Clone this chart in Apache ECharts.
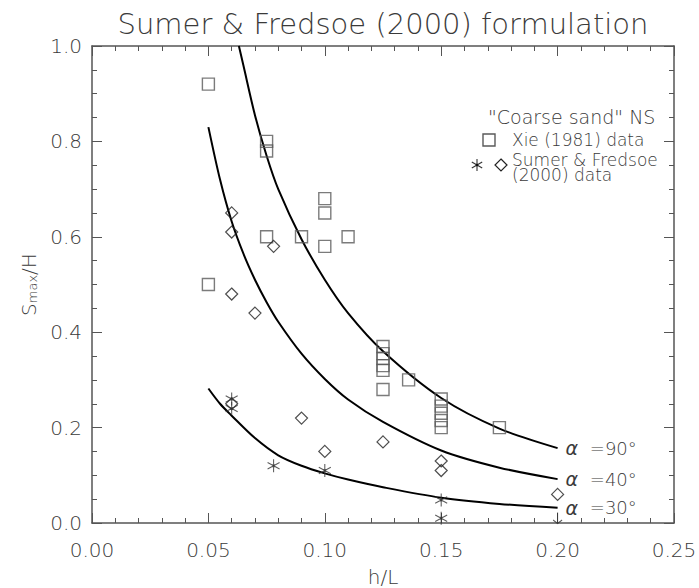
<!DOCTYPE html>
<html>
<head>
<meta charset="utf-8">
<title>Sumer &amp; Fredsoe (2000) formulation</title>
<script src="https://cdn.jsdelivr.net/npm/echarts@6/dist/echarts.min.js"></script>
<style>
  html, body { margin: 0; padding: 0; background: #fff; }
  #chart { width: 699px; height: 588px; }
</style>
</head>
<body>
<div id="chart"></div>
<script>
// Xie (1981) measurements: [h/L, Smax/H]
const xieData = [
  [0.05, 0.92], [0.05, 0.50],
  [0.075, 0.80], [0.075, 0.78], [0.075, 0.60],
  [0.09, 0.60],
  [0.10, 0.68], [0.10, 0.65], [0.10, 0.58],
  [0.11, 0.60],
  [0.125, 0.37], [0.125, 0.355], [0.125, 0.345], [0.125, 0.33], [0.125, 0.32], [0.125, 0.28],
  [0.136, 0.30],
  [0.15, 0.26], [0.15, 0.245], [0.15, 0.23], [0.15, 0.215], [0.15, 0.20],
  [0.175, 0.20]
];

// Sumer & Fredsoe (2000) measurements, diamonds
const sumerDiamond = [
  [0.06, 0.65], [0.06, 0.61], [0.06, 0.48], [0.06, 0.25],
  [0.07, 0.44], [0.078, 0.58],
  [0.09, 0.22], [0.10, 0.15], [0.125, 0.17],
  [0.15, 0.13], [0.15, 0.11],
  [0.20, 0.06]
];

// Sumer & Fredsoe (2000) measurements, asterisks
const sumerStar = [
  [0.06, 0.26], [0.06, 0.24],
  [0.078, 0.12], [0.10, 0.11],
  [0.15, 0.048], [0.15, 0.01]
];

// no measurable scour (drawn as a down arrow)
const sumerZero = [[0.20, 0.0]];

// formulation curves for three breakwater slopes
const alpha90X = [0.0631, 0.065, 0.07, 0.075, 0.08, 0.09, 0.10, 0.11, 0.125, 0.15, 0.175, 0.20];
const alpha90Y = [1.0, 0.96, 0.855, 0.77, 0.70, 0.595, 0.51, 0.44, 0.36, 0.262, 0.198, 0.157];

const alpha40X = [0.05, 0.055, 0.06, 0.065, 0.07, 0.075, 0.08, 0.09, 0.10, 0.11, 0.125, 0.15, 0.175, 0.20];
const alpha40Y = [0.83, 0.72, 0.632, 0.565, 0.51, 0.463, 0.422, 0.355, 0.302, 0.259, 0.212, 0.152, 0.116, 0.092];

const alpha30X = [0.05, 0.055, 0.06, 0.07, 0.08, 0.09, 0.10, 0.11, 0.125, 0.15, 0.175, 0.20];
const alpha30Y = [0.282, 0.25, 0.225, 0.178, 0.142, 0.12, 0.104, 0.091, 0.075, 0.053, 0.040, 0.032];

const curveLabels = ['90°', '40°', '30°'];

const xTicks = { min: 0, max: 0.25, interval: 0.05 };
const yTicks = { min: 0, max: 1.0, interval: 0.2 };

const FONT = 'DejaVu Sans';
const TEXT = '#3a3a3a';
const AXIS = '#555';

function pairs(xs, ys) { return xs.map((x, i) => [x, ys[i]]); }

const starPath = 'path://M0,-1L0,1M-0.866,-0.5L0.866,0.5M-0.866,0.5L0.866,-0.5M-0.13,-0.13L0.13,-0.13L0.13,0.13L-0.13,0.13Z';
const arrowPath = 'path://M0,-1L0,1M-0.55,0.35L0,1L0.55,0.35';

function curve(xs, ys, lab) {
  return {
    type: 'line',
    data: pairs(xs, ys),
    smooth: 0.3,
    symbol: 'none',
    lineStyle: { color: '#000', width: 2 },
    endLabel: {
      show: true,
      distance: 8,
      formatter: '{a|α} =' + lab,
      color: TEXT,
      fontFamily: FONT,
      fontSize: 18,
      fontWeight: 200,
      rich: { a: { fontStyle: 'italic', fontFamily: FONT, fontSize: 19, fontWeight: 200, color: TEXT, padding: [0, 6, 0, 0] } }
    },
    z: 3
  };
}

// frame axes: ticks point into the plot on all four sides
function axisCommon(extra) {
  return Object.assign({
    axisLine: { show: true, onZero: false, lineStyle: { color: AXIS, width: 1.5 } },
    axisTick: { show: true, inside: true, length: 10, lineStyle: { color: AXIS, width: 1 } },
    splitLine: { show: false }
  }, extra);
}

// legend keys sit above the plot layers
const LEGEND_Z = 100;

function starLines(cx, cy, r) {
  const a = [[0, 1], [0.866, 0.5], [0.866, -0.5]];
  return a.map(([dx, dy]) => ({
    type: 'line',
    z: LEGEND_Z,
    shape: { x1: cx - dx * r, y1: cy - dy * r, x2: cx + dx * r, y2: cy + dy * r },
    style: { stroke: '#333', lineWidth: 1.1 }
  }));
}

const chart = echarts.init(document.getElementById('chart'), null, { renderer: 'svg' });

chart.setOption({
  animation: false,
  title: {
    text: 'Sumer & Fredsoe (2000) formulation',
    left: 378,
    textAlign: 'center',
    top: 4,
    textStyle: { fontFamily: FONT, fontSize: 29, fontWeight: 200, color: TEXT }
  },
  grid: { left: 92, right: 25, top: 46, bottom: 65, outerBoundsMode: 'none' },
  xAxis: [
    axisCommon({
      type: 'value', position: 'bottom',
      min: xTicks.min, max: xTicks.max, interval: xTicks.interval,
      minorTick: { show: true, splitNumber: 5, length: 5 },
      axisLabel: { margin: 17, formatter: v => v.toFixed(2), fontFamily: FONT, fontSize: 20, fontWeight: 200, color: TEXT },
      name: 'h/L', nameLocation: 'middle', nameGap: 44,
      nameTextStyle: { fontFamily: FONT, fontSize: 20, fontWeight: 200, color: TEXT }
    }),
    axisCommon({
      type: 'value', position: 'top',
      min: xTicks.min, max: xTicks.max, interval: xTicks.interval,
      minorTick: { show: true, splitNumber: 5, length: 5 },
      axisLabel: { show: false }
    })
  ],
  yAxis: [
    axisCommon({
      type: 'value', position: 'left',
      min: yTicks.min, max: yTicks.max, interval: yTicks.interval,
      minorTick: { show: true, splitNumber: 4, length: 5 },
      axisLabel: { margin: 10, formatter: v => v.toFixed(1), fontFamily: FONT, fontSize: 20, fontWeight: 200, color: TEXT },
      name: '{m|S}{s|max}{m|/H}', nameLocation: 'middle', nameGap: 52, nameRotate: 90,
      nameTextStyle: {
        color: TEXT,
        rich: {
          m: { fontFamily: FONT, fontSize: 20, fontWeight: 200, color: TEXT },
          s: { fontFamily: FONT, fontSize: 13, fontWeight: 200, color: TEXT, verticalAlign: 'bottom', padding: [8, 0, 0, 0] }
        }
      }
    }),
    axisCommon({
      type: 'value', position: 'right',
      min: yTicks.min, max: yTicks.max, interval: yTicks.interval,
      minorTick: { show: true, splitNumber: 4, length: 5 },
      axisLabel: { show: false }
    })
  ],
  series: [
    curve(alpha90X, alpha90Y, curveLabels[0]),
    curve(alpha40X, alpha40Y, curveLabels[1]),
    curve(alpha30X, alpha30Y, curveLabels[2]),
    {
      name: 'Xie (1981) data', type: 'scatter', data: xieData,
      symbol: 'rect', symbolSize: 12,
      itemStyle: { color: 'rgba(0,0,0,0)', borderColor: '#5a5a5a', borderWidth: 1.4 }, z: 4
    },
    {
      name: 'Sumer & Fredsoe (2000) data', type: 'scatter', data: sumerDiamond,
      symbol: 'diamond', symbolSize: 12,
      itemStyle: { color: 'rgba(0,0,0,0)', borderColor: '#222', borderWidth: 1.2 }, z: 4
    },
    {
      name: 'Sumer & Fredsoe (2000) data', type: 'scatter', data: sumerStar,
      symbol: starPath, symbolSize: [12, 13],
      itemStyle: { color: '#111', borderColor: '#333', borderWidth: 1.1 }, z: 5
    },
    {
      name: 'Sumer & Fredsoe (2000) data', type: 'scatter', data: sumerZero,
      symbol: arrowPath, symbolSize: [9, 11], symbolOffset: [0, -5],
      itemStyle: { color: 'rgba(0,0,0,0)', borderColor: '#333', borderWidth: 1.1 }, clip: false, z: 5
    }
  ],
  graphic: [
    { type: 'polygon', z: LEGEND_Z, shape: { points: [[501, 159], [507, 165], [501, 171], [495, 165]] }, style: { fill: 'none', stroke: '#222', lineWidth: 1.2 } },
    { type: 'rect', z: LEGEND_Z, shape: { x: 483, y: 134, width: 12, height: 12 }, style: { fill: 'none', stroke: '#5a5a5a', lineWidth: 1.4 } },
    ...starLines(477, 165, 6),
    { type: 'circle', z: LEGEND_Z, shape: { cx: 477, cy: 165, r: 1.3 }, style: { fill: '#111' } },
    { type: 'text', z: LEGEND_Z, x: 488, y: 107, style: { text: '"Coarse sand" NS', font: '200 19px "DejaVu Sans"', fill: TEXT } },
    { type: 'text', z: LEGEND_Z, x: 512, y: 131, style: { text: 'Xie (1981) data', font: '200 17px "DejaVu Sans"', fill: TEXT } },
    { type: 'text', z: LEGEND_Z, x: 512, y: 152, style: { text: 'Sumer & Fredsoe\n(2000) data', font: '200 17px "DejaVu Sans"', fill: TEXT, lineHeight: 15 } }
  ]
});
</script>
</body>
</html>
